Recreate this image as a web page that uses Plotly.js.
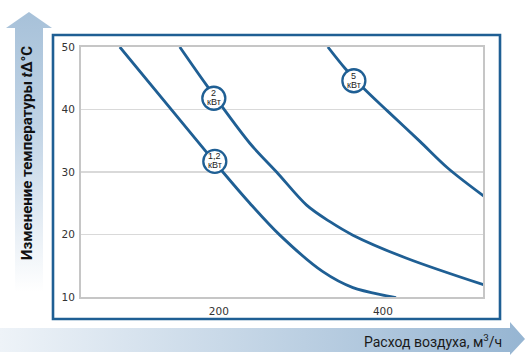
<!DOCTYPE html>
<html>
<head>
<meta charset="utf-8">
<script src="https://cdn.plot.ly/plotly-3.0.1.min.js"></script>
<style>html,body{margin:0;padding:0;background:#fff;}#chart{width:525px;height:358px;}</style>
</head>
<body>
<div id="chart"></div>
<script>
// Air flow (m³/h) vs temperature rise (°C) for three heater powers
const powerLabels = ['1,2', '2', '5'];
const unitLabel = 'кВт';

const flow12 = [79.3, 182.9, 204.9, 237.8, 274.4, 326.8, 363.4, 404.5, 416.0];
const dT12   = [50.0, 33.5, 30.0, 25.0, 19.9, 14.05, 11.5, 10.2, 9.9];

const flow2 = [152.4, 185.0, 237.8, 270.4, 307.0, 335.4, 363.4, 428.9, 524.1];
const dT2   = [50.0, 43.9, 34.6, 30.0, 24.7, 22.05, 19.9, 16.2, 11.9];

const flow5 = [332.9, 353.7, 378.0, 406.1, 445.1, 479.3, 524.4];
const dT5   = [50.0, 46.6, 43.2, 39.7, 34.9, 30.6, 26.0];

const labelFlow = [195.1, 193.9, 364.6];
const labelDT   = [31.7, 41.8, 44.6];

const yTicks = [10, 20, 30, 40, 50];
const xTicks = [200, 400];
const xTickText = ['200', '400'];

const yTitle = 'Изменение температуры <i>t</i>Δ°C';
const xTitle = 'Расход воздуха, м<sup>3</sup>/ч';

const blue = '#1f5f94';
const lineStyle = {color: blue, width: 2.8, shape: 'spline', smoothing: 0.9};

const traces = [
  {x: flow12, y: dT12, mode: 'lines', line: lineStyle, hoverinfo: 'skip'},
  {x: flow2, y: dT2, mode: 'lines', line: lineStyle, hoverinfo: 'skip'},
  {x: flow5, y: dT5, mode: 'lines', line: lineStyle, hoverinfo: 'skip'},
  {x: labelFlow, y: labelDT, mode: 'markers', cliponaxis: false,
   marker: {size: 23, color: '#ffffff', line: {color: blue, width: 2.3}}, hoverinfo: 'skip'}
];

// Plot area geometry: l=81, r=42, t=47, b=61 → 402 x 250
const W = 525, H = 358, L = 81, R = 42, T = 47, B = 61;
const PW = W - L - R, PH = H - T - B;
const px = v => (v - L) / PW;
const py = v => (H - B - v) / PH;

const svg = "<svg xmlns='http://www.w3.org/2000/svg' width='525' height='358' viewBox='0 0 525 358' preserveAspectRatio='none'>" +
  "<defs>" +
  "<linearGradient id='gy' gradientUnits='userSpaceOnUse' x1='0' y1='12' x2='0' y2='292'>" +
  "<stop offset='0' stop-color='#a7c1d9'/><stop offset='0.4' stop-color='#c0d3e5'/><stop offset='1' stop-color='#ffffff'/></linearGradient>" +
  "<linearGradient id='gx' gradientUnits='userSpaceOnUse' x1='0' y1='0' x2='525' y2='0'>" +
  "<stop offset='0' stop-color='#eef3f8'/><stop offset='1' stop-color='#96b5d2'/></linearGradient>" +
  "</defs>" +
  "<polygon points='29,12 52,28 43,28 43,292 15,292 15,28 6,28' fill='url(#gy)'/>" +
  "<polygon points='0,328 510,328 510,322 525,339 510,355 510,352 0,352' fill='url(#gx)'/>" +
  "</svg>";

const titleFont = 'Roboto, Liberation Sans Narrow, DejaVu Sans Condensed, sans-serif';
const annotations = [
  {xref: 'paper', yref: 'paper', x: px(27), y: py(153), text: '<b>' + yTitle + '</b>', textangle: -90,
   showarrow: false, xanchor: 'center', yanchor: 'middle',
   font: {family: titleFont, size: 15, color: '#111'}},
  {xref: 'paper', yref: 'paper', x: px(504), y: py(341), text: xTitle,
   showarrow: false, xanchor: 'right', yanchor: 'middle',
   font: {family: titleFont, size: 14, color: '#1a1a1a'}}
];
labelFlow.forEach((xv, i) => {
  annotations.push({x: xv, y: labelDT[i], text: powerLabels[i], showarrow: false, yshift: 5,
    font: {family: 'Liberation Sans, Arial, sans-serif', size: 9, color: '#222'}});
  annotations.push({x: xv, y: labelDT[i], text: unitLabel, showarrow: false, yshift: -4,
    font: {family: 'Liberation Sans, Arial, sans-serif', size: 9, color: '#222'}});
});

const layout = {
  width: W, height: H,
  margin: {l: L, r: R, t: T, b: B, pad: 0},
  paper_bgcolor: '#ffffff', plot_bgcolor: 'rgba(0,0,0,0)',
  showlegend: false,
  xaxis: {range: [32, 522], tickvals: xTicks, ticktext: xTickText, showgrid: false, zeroline: false,
          showline: true, mirror: true, linecolor: '#c6c6c6', linewidth: 2, ticks: '',
          ticklabelstandoff: 3,
          tickfont: {family: 'DejaVu Sans, sans-serif', size: 10.5, color: '#333'}},
  yaxis: {range: [10, 50], tickvals: yTicks, showgrid: true, gridcolor: '#d9d9d9', gridwidth: 1.6,
          zeroline: false, showline: true, mirror: true, linecolor: '#c6c6c6', linewidth: 2, ticks: '',
          ticklabelstandoff: 2,
          tickfont: {family: 'DejaVu Sans, sans-serif', size: 10.5, color: '#333'}},
  shapes: [
    {type: 'rect', xref: 'paper', yref: 'paper', x0: px(53), x1: px(500), y0: py(319), y1: py(35),
     line: {color: blue, width: 2.6}, fillcolor: 'rgba(0,0,0,0)', layer: 'below'}
  ],
  images: [
    {source: 'data:image/svg+xml;charset=utf-8,' + encodeURIComponent(svg),
     xref: 'paper', yref: 'paper', x: px(0), y: py(0), sizex: W / PW, sizey: H / PH,
     xanchor: 'left', yanchor: 'top', sizing: 'stretch', layer: 'below'}
  ],
  annotations: annotations
};

Plotly.newPlot('chart', traces, layout, {displayModeBar: false, staticPlot: true});
</script>
</body>
</html>
